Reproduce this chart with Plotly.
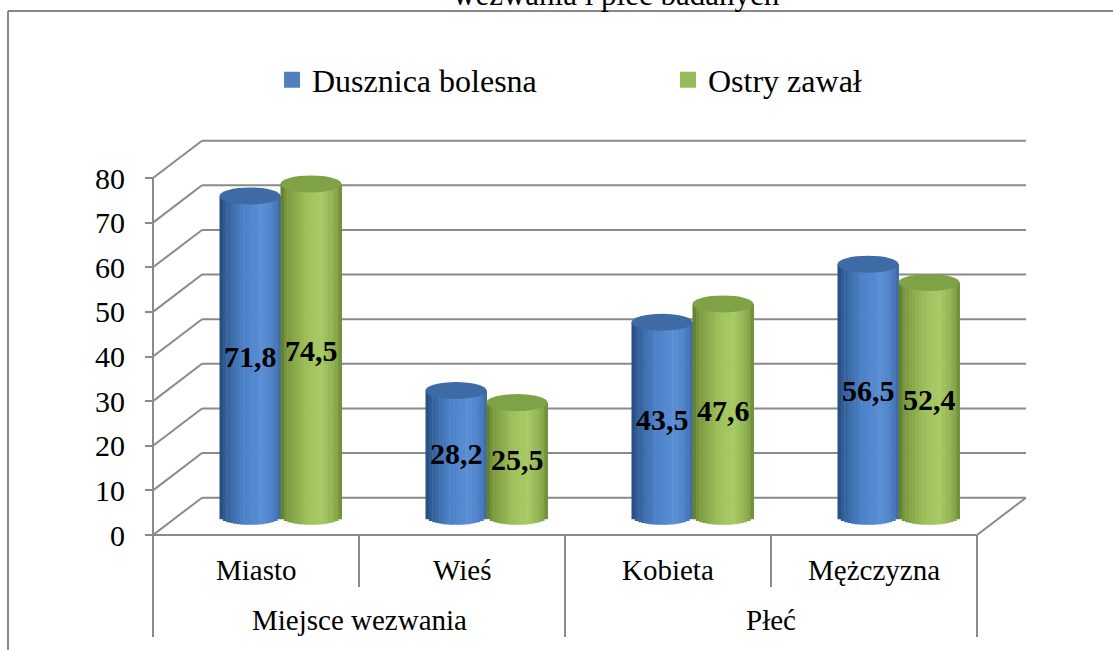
import math
import plotly.graph_objects as go

# ---------------- data ----------------
categories = ["Miasto", "Wieś", "Kobieta", "Mężczyzna"]
groups = ["Miejsce wezwania", "Płeć"]
group_members = [[0, 1], [2, 3]]
series_names = ["Dusznica bolesna", "Ostry zawał"]
dusznica = [71.8, 28.2, 43.5, 56.5]
zawal = [74.5, 25.5, 47.6, 52.4]
y_ticks = [0, 10, 20, 30, 40, 50, 60, 70, 80]
title_text = "wezwania i płeć badanych"

# ---------------- style / geometry ----------------
W_PX, H_PX = 1113, 650
L, R, T, B = 143, 70, 125, 105
PW, PH = W_PX - L - R, H_PX - T - B
PX_PER_X = 206.0
PX_PER_Y = 4.4625
X_RANGE = [-0.5 - 10 / PX_PER_X, -0.5 - 10 / PX_PER_X + PW / PX_PER_X]
Y_RANGE = [-10 / PX_PER_Y, -10 / PX_PER_Y + PH / PX_PER_Y]
DX = 49 / PX_PER_X          # depth offset (x units)
DY = 37.3 / PX_PER_Y        # depth offset (y units)
BAR_W = 61 / PX_PER_X
ELL_B = 8.5 / PX_PER_Y
N_STRIPS = 18
GRID = "#8a8a8a"
FONT = "'Liberation Serif', 'Times New Roman', Times, serif"

series_vals = [dusznica, zawal]
legend_colors = ["#4F81BD", "#9BBB59"]
top_colors = ["#3e6aa5", "#80a246"]
profiles = [
    [(0.0, "#244a7a"), (0.1, "#33609a"), (0.4, "#4d82c8"), (0.72, "#5a8fd6"),
     (0.9, "#4b7ec2"), (1.0, "#3a67a3")],
    [(0.0, "#5c772c"), (0.1, "#7b9a40"), (0.45, "#9fc25c"), (0.68, "#a8ca66"),
     (0.9, "#8cad4e"), (1.0, "#6b8834")],
]


def hex2rgb(h):
    h = h.lstrip("#")
    return [int(h[i:i + 2], 16) for i in (0, 2, 4)]


def interp(profile, s):
    for (s0, c0), (s1, c1) in zip(profile[:-1], profile[1:]):
        if s0 <= s <= s1:
            t = (s - s0) / (s1 - s0) if s1 > s0 else 0
            a, b = hex2rgb(c0), hex2rgb(c1)
            return "rgb(%d,%d,%d)" % tuple(round(a[i] + (b[i] - a[i]) * t) for i in range(3))
    return profile[-1][1]


def paper_x(xv):
    return (xv - X_RANGE[0]) / (X_RANGE[1] - X_RANGE[0])


def paper_y_px(py):
    return (H_PX - B - py) / PH


fig = go.Figure()

x_mid = [i + DX / 2 for i in range(len(categories))]
base0 = DY / 2

# bars (cylinders made of vertical strips)
for s, vals in enumerate(series_vals):
    start = -BAR_W if s == 0 else 0.0
    for k in range(N_STRIPS):
        u = -1 + (2 * k + 1) / N_STRIPS
        drop = ELL_B * math.sqrt(max(0.0, 1 - u * u))
        bk = base0 - drop
        fig.add_trace(go.Bar(
            x=x_mid, y=[v + drop for v in vals], base=bk,
            width=BAR_W / N_STRIPS * 1.15, offset=start + k * BAR_W / N_STRIPS,
            marker=dict(color=interp(profiles[s], (k + 0.5) / N_STRIPS), line=dict(width=0)),
            showlegend=False, hoverinfo="skip"))

# legend entries
for s in range(len(series_vals)):
    fig.add_trace(go.Scatter(
        x=[None], y=[None], mode="markers", name=series_names[s],
        marker=dict(symbol="square", size=16, color=legend_colors[s], line=dict(width=0)),
        showlegend=True, hoverinfo="skip"))

shapes = []
X0, X1 = -0.5, len(categories) - 0.5
gl = dict(color=GRID, width=2)
# back wall gridlines and left wall diagonals
for v in y_ticks:
    shapes.append(dict(type="line", xref="x", yref="y", x0=X0 + DX, x1=X1 + DX,
                       y0=v + DY, y1=v + DY, line=gl, layer="below"))
    shapes.append(dict(type="line", xref="x", yref="y", x0=X0, x1=X0 + DX,
                       y0=v, y1=v + DY, line=gl, layer="below"))
# left front edge, floor front edge, floor right edge
shapes.append(dict(type="line", xref="x", yref="y", x0=X0, x1=X0, y0=0, y1=max(y_ticks),
                   line=gl, layer="below"))
shapes.append(dict(type="line", xref="x", yref="y", x0=X0, x1=X1, y0=0, y1=0,
                   line=gl, layer="below"))
shapes.append(dict(type="line", xref="x", yref="y", x0=X1, x1=X1 + DX, y0=0, y1=DY,
                   line=gl, layer="below"))

# top ellipses of cylinders
for s, vals in enumerate(series_vals):
    for i, v in enumerate(vals):
        cx = x_mid[i] + (-BAR_W / 2 if s == 0 else BAR_W / 2)
        top = base0 + v
        shapes.append(dict(type="circle", xref="x", yref="y",
                           x0=cx - BAR_W / 2, x1=cx + BAR_W / 2,
                           y0=top - ELL_B, y1=top + ELL_B,
                           fillcolor=top_colors[s], line=dict(width=0), layer="above"))

# category axis dividers (below plot)
y_front0 = paper_y_px(H_PX - B - 10)
y_short = paper_y_px(587)
y_long = paper_y_px(637)
for j in range(len(categories) + 1):
    is_group_edge = (j == 0) or any(j == g[-1] + 1 for g in group_members)
    shapes.append(dict(type="line", xref="paper", yref="paper",
                       x0=paper_x(X0 + j), x1=paper_x(X0 + j),
                       y0=y_front0, y1=y_long if is_group_edge else y_short,
                       line=gl))

# outer frame (partially visible)
shapes.append(dict(type="line", xref="paper", yref="paper",
                   x0=(8 - L) / PW, x1=(1130 - L) / PW,
                   y0=paper_y_px(11), y1=paper_y_px(11), line=dict(color="#888888", width=2)))
shapes.append(dict(type="line", xref="paper", yref="paper",
                   x0=(8 - L) / PW, x1=(8 - L) / PW,
                   y0=paper_y_px(11), y1=paper_y_px(670), line=dict(color="#888888", width=2)))

annotations = []
# data labels
for s, vals in enumerate(series_vals):
    for i, v in enumerate(vals):
        cx = x_mid[i] + (-BAR_W / 2 if s == 0 else BAR_W / 2)
        annotations.append(dict(x=cx, y=base0 + v / 2, xref="x", yref="y",
                                text="<b>" + ("%.1f" % v).replace(".", ",") + "</b>",
                                showarrow=False, xanchor="center", yanchor="middle",
                                font=dict(family=FONT, size=30, color="black")))
# category labels
for i, c in enumerate(categories):
    annotations.append(dict(x=paper_x(i), y=paper_y_px(570), xref="paper", yref="paper",
                            text=c, showarrow=False, xanchor="center", yanchor="middle",
                            font=dict(family=FONT, size=29, color="black")))
for g, members in zip(groups, group_members):
    annotations.append(dict(x=paper_x(sum(members) / len(members)), y=paper_y_px(620),
                            xref="paper", yref="paper", text=g, showarrow=False,
                            xanchor="center", yanchor="middle",
                            font=dict(family=FONT, size=29, color="black")))
# title (cut off at top, as in the original)
annotations.append(dict(x=(616 - L) / PW, y=paper_y_px(14), xref="paper", yref="paper",
                        text=title_text, showarrow=False, xanchor="center", yanchor="bottom",
                        font=dict(family=FONT, size=31, color="black")))

fig.update_layout(
    width=W_PX, height=H_PX,
    margin=dict(l=L, r=R, t=T, b=B, autoexpand=False),
    paper_bgcolor="white", plot_bgcolor="white",
    barmode="overlay",
    xaxis=dict(range=X_RANGE, visible=False, fixedrange=True),
    yaxis=dict(range=Y_RANGE, anchor="free", position=10 / PW, fixedrange=True,
               tickmode="array", tickvals=y_ticks, ticktext=[str(t) for t in y_ticks],
               showgrid=False, zeroline=False, showline=False,
               ticks="outside", ticklen=8, tickwidth=2, tickcolor=GRID,
               ticklabelstandoff=14,
               tickfont=dict(family=FONT, size=30, color="black")),
    legend=dict(orientation="h", x=(272 - L) / PW, xanchor="left",
                y=paper_y_px(80), yanchor="middle", entrywidth=351,
                font=dict(family=FONT, size=32, color="black"),
                bgcolor="rgba(0,0,0,0)", traceorder="normal"),
    shapes=shapes, annotations=annotations,
    showlegend=True,
)

fig.write_html("out.html", config={"displayModeBar": False},
               post_script="document.body.style.margin='0px';document.body.style.padding='0px';")
